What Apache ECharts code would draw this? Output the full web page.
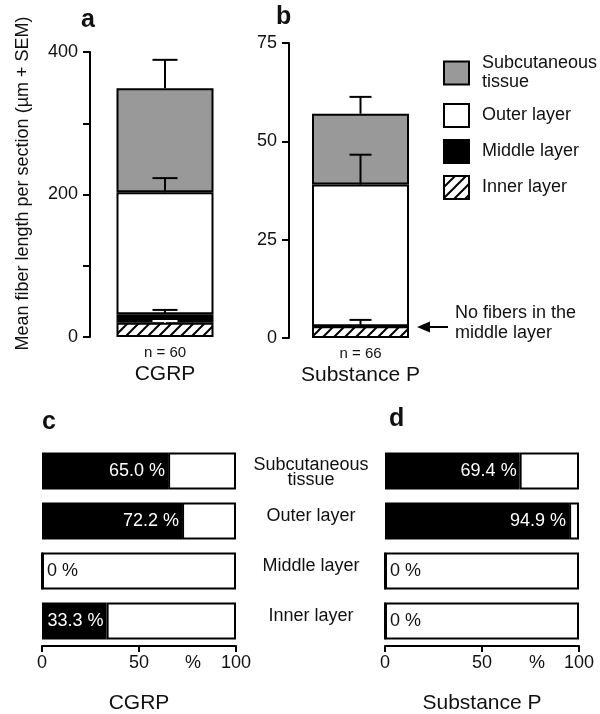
<!DOCTYPE html>
<html>
<head>
<meta charset="utf-8">
<script src="https://cdn.jsdelivr.net/npm/echarts@6/dist/echarts.min.js"></script>
<style>html,body{margin:0;padding:0;background:#fff}#c{width:600px;height:714px}</style>
</head>
<body>
<div id="c"></div>
<script>
// ---------- data ----------
const groups = ['CGRP', 'Substance P'];
const nValues = [60, 66];
// stacking order bottom -> top
const layers = ['Inner layer', 'Middle layer', 'Outer layer', 'Subcutaneous\ntissue'];
const cgrpMean = [20, 12, 171, 146];
const cgrpSem = [2.5, 6, 20, 40];
const spMean = [3, 0, 36, 18];
const spSem = [1.6, 0, 7.6, 4.3];
const axisA = { min: 0, max: 400, interval: 100 };
const axisB = { min: 0, max: 75, interval: 25 };

const pctCategories = ['Subcutaneous\ntissue', 'Outer layer', 'Middle layer', 'Inner layer'];
const pctCgrp = [65.0, 72.2, 0, 33.3];
const pctSp = [69.4, 94.9, 0, 0];
const pctAxis = { min: 0, max: 100, interval: 50 };

// ---------- styles ----------
const FONT = 'Liberation Sans, Arial, Helvetica, sans-serif';
const TXT = '#111';
function hatchPattern() {
  const s = 11, c = document.createElement('canvas');
  c.width = s; c.height = s;
  const g = c.getContext('2d');
  g.fillStyle = '#fff'; g.fillRect(0, 0, s, s);
  g.strokeStyle = '#000'; g.lineWidth = 2;
  g.beginPath();
  g.moveTo(0, s); g.lineTo(s, 0);
  g.moveTo(-3, 3); g.lineTo(3, -3);
  g.moveTo(s - 3, s + 3); g.lineTo(s + 3, s - 3);
  g.stroke();
  return c;
}
const layerFill = [{ image: hatchPattern(), repeat: 'repeat' }, '#000000', '#ffffff', '#999999'];
const errColorA = ['#ffffff', '#000', '#000', '#000'];
const errColorB = ['#000', '#000', '#000', '#000'];

const chart = echarts.init(document.getElementById('c'), null, { renderer: 'canvas' });

function cumulative(means, sems) {
  const out = []; let acc = 0;
  for (let i = 0; i < means.length; i++) {
    acc += means[i];
    if (sems[i] > 0) out.push([0, acc, acc + sems[i], i]);
  }
  return out;
}

function errSeries(grid, data, colors, capW) {
  return {
    type: 'custom', xAxisIndex: grid, yAxisIndex: grid, z: 10,
    data: data,
    renderItem: function (params, api) {
      const p0 = api.coord([api.value(0), api.value(1)]);
      const p1 = api.coord([api.value(0), api.value(2)]);
      const col = colors[api.value(3)];
      const st = { stroke: col, lineWidth: 2 };
      return {
        type: 'group', children: [
          { type: 'line', shape: { x1: p0[0], y1: p0[1], x2: p1[0], y2: p1[1] }, style: st },
          { type: 'line', shape: { x1: p1[0] - capW / 2, y1: p1[1], x2: p1[0] + capW / 2, y2: p1[1] }, style: st }
        ]
      };
    }
  };
}

const series = [];
[cgrpMean, spMean].forEach(function (means, gi) {
  layers.forEach(function (name, li) {
    series.push({
      type: 'bar', name: name, stack: 'g' + gi, xAxisIndex: gi, yAxisIndex: gi,
      barWidth: 97,
      data: [means[li]],
      itemStyle: { color: layerFill[li], borderColor: '#000', borderWidth: 2 },
      emphasis: { disabled: true }
    });
  });
});
series.push(errSeries(0, cumulative(cgrpMean, cgrpSem), errColorA, 25));
series.push(errSeries(1, cumulative(spMean, spSem), errColorB, 22));

function pctSeries(grid, pcts) {
  const black = pcts.map(function (p) {
    return { value: p, label: { show: p > 0 } };
  });
  const white = pcts.map(function (p) {
    return { value: 100 - p, label: { show: p === 0 } };
  });
  return [
    {
      type: 'bar', name: 'pos' + grid, stack: 'p' + grid, xAxisIndex: grid, yAxisIndex: grid,
      barWidth: 37, data: black,
      itemStyle: { color: '#000', borderColor: '#000', borderWidth: 2 },
      label: { position: 'insideRight', distance: 3, color: '#fff', fontSize: 18, fontFamily: FONT,
        formatter: function (p) { return p.value.toFixed(1) + ' %'; } },
      emphasis: { disabled: true }
    },
    {
      type: 'bar', name: 'neg' + grid, stack: 'p' + grid, xAxisIndex: grid, yAxisIndex: grid,
      barWidth: 37, data: white,
      itemStyle: { color: '#fff', borderColor: '#000', borderWidth: 2 },
      label: { position: 'insideLeft', distance: 5, color: TXT, fontSize: 18, fontFamily: FONT,
        formatter: function () { return '0 %'; } },
      emphasis: { disabled: true }
    }
  ];
}
series.push.apply(series, pctSeries(2, pctCgrp));
series.push.apply(series, pctSeries(3, pctSp));

const valAxisCommon = {
  type: 'value',
  splitLine: { show: false },
  axisLine: { show: true, lineStyle: { color: '#000', width: 2 } },
  axisTick: { show: true, length: 7, lineStyle: { color: '#000', width: 2 } },
  axisLabel: { color: TXT, fontSize: 18, fontFamily: FONT, margin: 12 }
};

const catRich = {
  s: { fontSize: 18, lineHeight: 18, color: TXT, fontFamily: FONT, padding: [0, 0, 9, 0] },
  t1: { fontSize: 18, lineHeight: 18, color: TXT, fontFamily: FONT, padding: [6, 0, 0, 0] },
  t2: { fontSize: 18, lineHeight: 18, color: TXT, fontFamily: FONT }
};

const option = {
  animation: false,
  backgroundColor: '#fff',
  textStyle: { fontFamily: FONT },
  grid: [
    { left: 90, top: 52, width: 150, height: 285, outerBoundsMode: 'none', containLabel: false },
    { left: 289, top: 43, width: 143, height: 295, outerBoundsMode: 'none', containLabel: false },
    { left: 42, top: 446, width: 194, height: 200, outerBoundsMode: 'none', containLabel: false },
    { left: 385, top: 446, width: 194, height: 200, outerBoundsMode: 'none', containLabel: false }
  ],
  xAxis: [
    { type: 'category', gridIndex: 0, data: [groups[0]],
      axisLine: { show: false }, axisTick: { show: false },
      axisLabel: { margin: 7, color: TXT, fontFamily: FONT,
        formatter: function (v) { return '{n|n = ' + nValues[0] + '}\n{g|' + v + '}'; },
        rich: { n: { fontSize: 15, lineHeight: 18, color: TXT, fontFamily: FONT },
                g: { fontSize: 21, lineHeight: 24, color: TXT, fontFamily: FONT } } } },
    { type: 'category', gridIndex: 1, data: [groups[1]],
      axisLine: { show: false }, axisTick: { show: false },
      axisLabel: { margin: 7, color: TXT, fontFamily: FONT,
        formatter: function (v) { return '{n|n = ' + nValues[1] + '}\n{g|' + v + '}'; },
        rich: { n: { fontSize: 15, lineHeight: 18, color: TXT, fontFamily: FONT },
                g: { fontSize: 21, lineHeight: 24, color: TXT, fontFamily: FONT } } } },
    Object.assign({}, valAxisCommon, { gridIndex: 2, min: pctAxis.min, max: pctAxis.max, interval: pctAxis.interval,
      axisTick: { show: true, length: 6, lineStyle: { color: '#000', width: 2 } },
      axisLabel: { color: TXT, fontSize: 18, fontFamily: FONT, margin: 8 },
      name: groups[0], nameLocation: 'middle', nameGap: 47,
      nameTextStyle: { fontSize: 21, color: TXT, fontFamily: FONT } }),
    Object.assign({}, valAxisCommon, { gridIndex: 3, min: pctAxis.min, max: pctAxis.max, interval: pctAxis.interval,
      axisTick: { show: true, length: 6, lineStyle: { color: '#000', width: 2 } },
      axisLabel: { color: TXT, fontSize: 18, fontFamily: FONT, margin: 8 },
      name: groups[1], nameLocation: 'middle', nameGap: 47,
      nameTextStyle: { fontSize: 21, color: TXT, fontFamily: FONT } })
  ],
  yAxis: [
    Object.assign({}, valAxisCommon, { gridIndex: 0, min: axisA.min, max: axisA.max, interval: axisA.interval,
      axisLabel: Object.assign({}, valAxisCommon.axisLabel, {
        formatter: function (v) { return v % 200 === 0 ? String(v) : ''; } }),
      name: 'Mean fiber length per section (µm + SEM)', nameLocation: 'middle', nameRotate: 90, nameGap: 58,
      nameTextStyle: { fontSize: 18, color: TXT, fontFamily: FONT, padding: [0, 0, 0, 22] } }),
    Object.assign({}, valAxisCommon, { gridIndex: 1, min: axisB.min, max: axisB.max, interval: axisB.interval }),
    { type: 'category', gridIndex: 2, data: pctCategories, inverse: true, show: false },
    { type: 'category', gridIndex: 3, data: pctCategories, inverse: true,
      axisLine: { show: false }, axisTick: { show: false },
      axisLabel: { margin: 74, align: 'center', color: TXT, fontSize: 18, fontFamily: FONT,
        formatter: function (v) {
          const parts = v.split('\n');
          if (parts.length === 1) return '{s|' + v + '}';
          return '{t1|' + parts[0] + '}\n' + parts.slice(1).map(function (p) { return '{t2|' + p + '}'; }).join('\n');
        },
        rich: catRich } }
  ],
  legend: {
    data: ['Subcutaneous\ntissue', 'Outer layer', 'Middle layer', 'Inner layer'],
    orient: 'vertical', left: 438, top: 49,
    icon: 'rect', itemWidth: 25, itemHeight: 23, itemGap: 11,
    selectedMode: false,
    itemStyle: { borderColor: '#000', borderWidth: 2 },
    textStyle: { fontSize: 18, lineHeight: 19, color: TXT, fontFamily: FONT, padding: [0, 0, 0, 8] }
  },
  graphic: [
    { type: 'text', left: 81, top: 8, style: { text: 'a', font: 'bold 25px ' + FONT, fill: TXT } },
    { type: 'text', left: 276, top: 5, style: { text: 'b', font: 'bold 25px ' + FONT, fill: TXT } },
    { type: 'text', left: 42, top: 410, style: { text: 'c', font: 'bold 25px ' + FONT, fill: TXT } },
    { type: 'text', left: 389, top: 407, style: { text: 'd', font: 'bold 25px ' + FONT, fill: TXT } },
    { type: 'text', left: 185, top: 654, style: { text: '%', font: '18px ' + FONT, fill: TXT } },
    { type: 'text', left: 529, top: 654, style: { text: '%', font: '18px ' + FONT, fill: TXT } },
    { type: 'text', left: 455, top: 303, style: { text: 'No fibers in the\nmiddle layer', font: '18px ' + FONT, lineHeight: 20, fill: TXT } },
    { type: 'line', shape: { x1: 428, y1: 327, x2: 448, y2: 327 }, style: { stroke: '#000', lineWidth: 2 } },
    { type: 'polygon', shape: { points: [[417, 327], [430, 321.5], [430, 332.5]] }, style: { fill: '#000' } }
  ],
  series: series
};
chart.setOption(option);
</script>
</body>
</html>
